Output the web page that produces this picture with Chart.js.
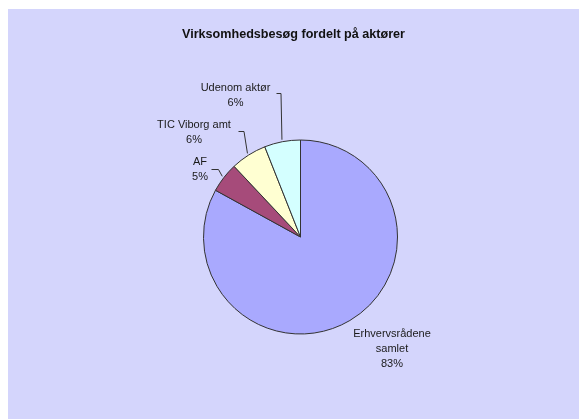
<!DOCTYPE html>
<html>
<head>
<meta charset="utf-8">
<script src="https://cdn.jsdelivr.net/npm/chart.js@4.4.1/dist/chart.umd.min.js"></script>
<style>
  html, body { margin: 0; padding: 0; background: #ffffff; }
  #wrap { width: 579px; height: 419px; position: relative; }
</style>
</head>
<body>
<div id="wrap"><canvas id="c" width="579" height="419"></canvas></div>
<script>
// Virksomhedsbesøg fordelt på aktører (procent)
const titleText = 'Virksomhedsbesøg fordelt på aktører';
const categories = ['Erhvervsrådene samlet', 'AF', 'TIC Viborg amt', 'Udenom aktør'];
const labelLines = [['Erhvervsrådene', 'samlet'], ['AF'], ['TIC Viborg amt'], ['Udenom aktør']];
const values = [83, 5, 6, 6];
const sliceColors = ['#a9a9fe', '#a64b7a', '#ffffd2', '#d4ffff'];

// Where each data label sits, and where its leader line starts (null = no leader)
const labelPlacement = [
  { x: 392, y: 334, leader: null },
  { x: 200, y: 162, leader: [211.5, 169.5, 218.5] },
  { x: 194, y: 125, leader: [238.5, 131.5, 244] },
  { x: 235.5, y: 87.5, leader: [276.5, 93.5, 281] }
];

const backgroundPlugin = {
  id: 'panelBackground',
  beforeDraw(chart) {
    const ctx = chart.ctx;
    ctx.save();
    ctx.fillStyle = '#ffffff';
    ctx.fillRect(0, 0, chart.width, chart.height);
    ctx.fillStyle = '#d4d5fc';
    ctx.fillRect(8, 9, chart.width - 8, chart.height - 9);
    ctx.fillStyle = '#111111';
    ctx.font = 'bold 12.6px "Liberation Sans", Arial, sans-serif';
    ctx.textAlign = 'center';
    ctx.textBaseline = 'middle';
    ctx.fillText(titleText, 293.5, 35);
    ctx.restore();
  }
};

const sliceLabelPlugin = {
  id: 'sliceLabels',
  afterDatasetsDraw(chart) {
    const ctx = chart.ctx;
    const meta = chart.getDatasetMeta(0);
    const data = chart.data.datasets[0].data;
    const total = data.reduce((a, b) => a + b, 0);
    ctx.save();
    ctx.font = '11px "Liberation Sans", Arial, sans-serif';
    ctx.textAlign = 'center';
    ctx.textBaseline = 'middle';
    meta.data.forEach((arc, i) => {
      const p = arc.getProps(['x', 'y', 'startAngle', 'endAngle', 'outerRadius'], true);
      const place = labelPlacement[i];
      const lines = labelLines[i].concat([Math.round(data[i] / total * 100) + '%']);
      ctx.fillStyle = '#1a1a1a';
      lines.forEach((t, k) => ctx.fillText(t, place.x, place.y + k * 15));
      if (place.leader) {
        const mid = (p.startAngle + p.endAngle) / 2;
        const r = p.outerRadius + 2;
        const ax = p.x + Math.cos(mid) * r;
        const ay = p.y + Math.sin(mid) * r;
        ctx.strokeStyle = '#333333';
        ctx.lineWidth = 1;
        ctx.beginPath();
        ctx.moveTo(place.leader[0], place.leader[1]);
        ctx.lineTo(place.leader[2], place.leader[1]);
        ctx.lineTo(ax, ay);
        ctx.stroke();
      }
    });
    ctx.restore();
  }
};

new Chart(document.getElementById('c'), {
  type: 'pie',
  data: {
    labels: categories,
    datasets: [{
      data: values,
      backgroundColor: sliceColors,
      borderColor: '#333333',
      borderWidth: 1
    }]
  },
  options: {
    responsive: false,
    animation: false,
    layout: { padding: { left: 200, right: 178, top: 139.5, bottom: 84.5 } },
    plugins: {
      legend: { display: false },
      title: { display: false },
      tooltip: { enabled: false }
    }
  },
  plugins: [backgroundPlugin, sliceLabelPlugin]
});
</script>
</body>
</html>
